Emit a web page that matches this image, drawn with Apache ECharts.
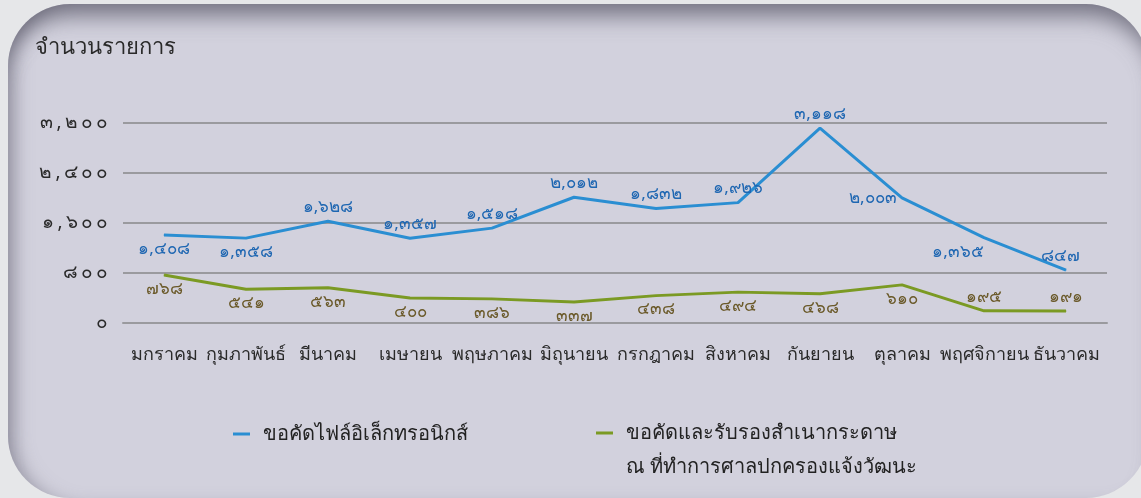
<!DOCTYPE html>
<html>
<head>
<meta charset="utf-8">
<script src="https://cdn.jsdelivr.net/npm/echarts@6/dist/echarts.min.js"></script>
<style>
  html, body { margin: 0; padding: 0; background: #e6e7e9; overflow: hidden; }
  .panel {
    position: absolute; left: 8px; top: 4px; width: 1140px; height: 494px;
    background: #d2d1dd;
    border-radius: 62px;
    box-shadow: inset 0 22px 22px -10px rgba(90, 88, 104, 0.75), inset 16px 0 18px -10px rgba(110, 108, 124, 0.55);
  }
  #chart { position: absolute; left: 0; top: 0; width: 1141px; height: 498px; }
</style>
</head>
<body>
<div class="panel"></div>
<div id="chart"></div>
<script>
// ข้อมูลรายเดือน
const months = ['มกราคม', 'กุมภาพันธ์', 'มีนาคม', 'เมษายน', 'พฤษภาคม', 'มิถุนายน', 'กรกฎาคม', 'สิงหาคม', 'กันยายน', 'ตุลาคม', 'พฤศจิกายน', 'ธันวาคม'];
const electronicFiles = [1408, 1358, 1628, 1357, 1518, 2012, 1832, 1926, 3118, 2003, 1365, 847];
const paperCopies = [768, 541, 563, 400, 386, 337, 438, 494, 468, 610, 195, 191];
const seriesNames = ['ขอคัดไฟล์อิเล็กทรอนิกส์', 'ขอคัดและรับรองสำเนากระดาษ'];
const paperNameLine2 = 'ณ ที่ทำการศาลปกครองแจ้งวัฒนะ';

// ตำแหน่ง label ของแต่ละจุด (style only)
const bluePos = ['bottom', 'bottom', 'top', 'top', 'top', 'top', 'top', 'top', 'top', 'left', 'bottom', 'top'];
const blueOffset = [[0, 0], [0, 0], [0, 0], [0, 0], [0, 0], [0, 0], [0, 0], [0, 0], [0, 0], [0, 0], [-26, 0], [-6, 0]];
const greenPos = ['bottom', 'bottom', 'bottom', 'bottom', 'bottom', 'bottom', 'bottom', 'bottom', 'bottom', 'bottom', 'top', 'top'];

const thaiDigits = '๐๑๒๓๔๕๖๗๘๙';
function toThai(n) {
  return Number(n).toLocaleString('en-US').replace(/\d/g, d => thaiDigits[d]);
}
// ตัวเลขแกน y ห่างกันเล็กน้อย
function spaced(s) {
  return s.split('').join('\u2009');
}

const font = '"Noto Sans", "DejaVu Sans", sans-serif';

function withLabels(values, pos, offset) {
  return values.map((v, i) => ({
    value: v,
    label: { position: pos[i], offset: offset ? offset[i] : [0, 0] }
  }));
}

const myChart = echarts.init(document.getElementById('chart'));
myChart.setOption({
  backgroundColor: 'transparent',
  textStyle: { fontFamily: font },
  title: {
    text: 'จำนวนรายการ',
    left: 30, top: 32,
    textStyle: { fontSize: 22, fontWeight: 'normal', color: '#2a2a2a', fontFamily: font }
  },
  legend: [
    {
      data: [seriesNames[0]],
      left: 233, top: 424, padding: 0,
      icon: 'rect', itemWidth: 17, itemHeight: 3,
      textStyle: { fontSize: 20, color: '#222', padding: [0, 0, 0, 8], fontFamily: font }
    },
    {
      data: [seriesNames[1]],
      left: 596, top: 382, padding: 0,
      icon: 'rect', itemWidth: 17, itemHeight: 3,
      // บรรทัดว่างด้านบน เพื่อให้ไอคอนตรงกับบรรทัดแรก
      formatter: name => '\n' + name + '\n' + paperNameLine2,
      textStyle: { fontSize: 20, color: '#222', lineHeight: 34, padding: [0, 0, 0, 8], fontFamily: font }
    }
  ],
  grid: { left: 123, right: 34, top: 123, bottom: 175 },
  xAxis: {
    type: 'category',
    data: months,
    axisTick: { show: false },
    axisLine: { lineStyle: { color: '#9a9a9e', width: 2 } },
    axisLabel: { margin: 23, fontSize: 18, color: '#2a2a2a', interval: 0, fontFamily: font }
  },
  yAxis: {
    type: 'value',
    min: 0, max: 3200, interval: 800,
    axisLine: { show: false },
    axisTick: { show: false },
    axisLabel: { margin: 15, fontSize: 19, color: '#2a2a2a', formatter: v => spaced(toThai(v)), fontFamily: font },
    splitLine: { lineStyle: { color: '#9a9a9e', width: 2 } }
  },
  series: [
    {
      name: seriesNames[0],
      type: 'line',
      data: withLabels(electronicFiles, bluePos, blueOffset),
      symbol: 'circle',
      symbolSize: 1,
      lineStyle: { color: '#2a8ed2', width: 3 },
      itemStyle: { color: '#2a8ed2' },
      label: { show: true, distance: 5, fontSize: 17, color: '#1f67b2', formatter: p => toThai(p.value), fontFamily: font }
    },
    {
      name: seriesNames[1],
      type: 'line',
      data: withLabels(paperCopies, greenPos),
      symbol: 'circle',
      symbolSize: 1,
      lineStyle: { color: '#7b9a23', width: 3 },
      itemStyle: { color: '#7b9a23' },
      label: { show: true, distance: 5, fontSize: 17, color: '#6b5a2a', formatter: p => toThai(p.value), fontFamily: font }
    }
  ]
});
</script>
</body>
</html>
